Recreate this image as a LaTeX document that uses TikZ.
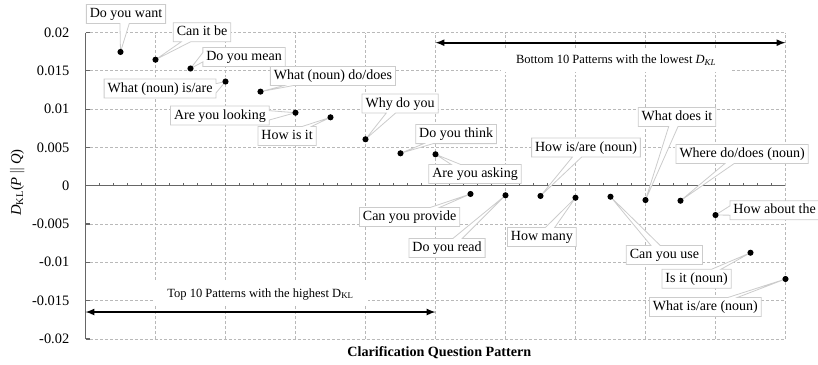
\documentclass[tikz,border=0pt]{standalone}
\usepackage{fontspec}
\setmainfont{Liberation Serif}
\usetikzlibrary{shapes.callouts}
\tikzset{>=latex}

\begin{document}
\begin{tikzpicture}[x=26.25pt, y=5.745pt,
  gridline/.style={gray!55, line width=0.5pt, dash pattern=on 2.2pt off 1.5pt},
  axisline/.style={black!60, line width=0.9pt},
  callbox/.style={rectangle callout, draw=gray!40, fill=white, line width=0.6pt,
    inner xsep=2.6pt, inner ysep=2.4pt, text height=7.4pt, text depth=2.1pt,
    font=\fontsize{10.5}{12}\selectfont, callout pointer width=7pt},
  rangetext/.style={fill=white, inner xsep=11pt, inner ysep=5pt, font=\fontsize{9.4}{11}\selectfont},
  ticklabel/.style={anchor=east, font=\fontsize{10.8}{12}\selectfont}]

\useasboundingbox (-2.443,-23.407) rectangle (20.929,24.243);

% grid
\foreach \gx in {2,4,...,20} \draw[gridline] (\gx,-20) -- (\gx,20);
\foreach \gy in {-20,-15,...,20} \draw[gridline] (0,\gy) -- (20,\gy);

% axes
\draw[axisline] (0,-20) -- (0,20);
\draw[axisline] (0,0) -- (20,0);
\foreach \gy in {-20,-15,...,20} \draw[axisline] (0,\gy) -- ++(3pt,0);
\foreach \tx in {0.4,0.8,...,20} \draw[axisline, line width=0.6pt] (\tx,0) -- ++(0,2.2pt);

\foreach \v/\t [count=\i] in {20/0.02, 15/0.015, 10/0.01, 5/0.005, 0/0, -5/-0.005, -10/-0.01, -15/-0.015, -20/-0.02}
  \node[ticklabel] (ylab\i) at (-0.33,\v) {\t};

\node[rotate=90, font=\fontsize{11}{13}\selectfont] (ytitle) at (-1.95,0.4) {\textit{D}\textsubscript{KL}(\textit{P}\,$\|$\,\textit{Q})};
\node[font=\bfseries\fontsize{10.6}{12}\selectfont] (xtitle) at (10.11,-21.84) {Clarification Question Pattern};

% ranges
\node[rangetext] (lowtxt) at (15.16,16.41) {Bottom 10 Patterns with the lowest \textit{D}\textsubscript{\textit{KL}}};
\coordinate (lowL) at (10,18.67);
\coordinate (lowR) at (20,18.67);
\draw[<->, line width=1.3pt] (lowL) -- (lowR);

\node[rangetext] (hightxt) at (5.0,-14.14) {Top 10 Patterns with the highest D\textsubscript{KL}};
\coordinate (highL) at (0,-16.49);
\coordinate (highR) at (10,-16.49);
\draw[<->, line width=1.3pt] (highL) -- (highR);

% data points
\coordinate (p1) at (1,17.46);
\coordinate (p2) at (2,16.45);
\coordinate (p3) at (3,15.30);
\coordinate (p4) at (4,13.6);
\coordinate (p5) at (5,12.28);
\coordinate (p6) at (6,9.53);
\coordinate (p7) at (7,8.93);
\coordinate (p8) at (8,6.06);
\coordinate (p9) at (9,4.23);
\coordinate (p10) at (10,4.10);
\coordinate (p11) at (11,-1.08);
\coordinate (p12) at (12,-1.25);
\coordinate (p13) at (13,-1.34);
\coordinate (p14) at (14,-1.57);
\coordinate (p15) at (15,-1.44);
\coordinate (p16) at (16,-1.87);
\coordinate (p17) at (17,-1.96);
\coordinate (p18) at (18,-3.83);
\coordinate (p19) at (19,-8.75);
\coordinate (p20) at (20,-12.18);

% callouts
\node[callbox, callout absolute pointer={(p1)}] (c1) at (1.157,22.42) {Do you want};
\node[callbox, callout absolute pointer={(p2)}] (c2) at (3.33,20.03) {Can it be};
\node[callbox, callout absolute pointer={(p3)}] (c3) at (4.53,16.80) {Do you mean};
\node[callbox, callout absolute pointer={(p4)}] (c4) at (2.13,12.69) {What (noun) is/are};
\node[callbox, callout absolute pointer={(p5)}] (c5) at (7.07,14.32) {What (noun) do/does};
\node[callbox, callout absolute pointer={(p6)}] (c6) at (3.84,9.16) {Are you looking};
\node[callbox, callout absolute pointer={(p7)}] (c7) at (5.76,6.49) {How is it};
\node[callbox, callout absolute pointer={(p8)}] (c8) at (8.99,10.73) {Why do you};
\node[callbox, callout absolute pointer={(p9)}] (c9) at (10.59,6.74) {Do you think};
\node[callbox, callout absolute pointer={(p10)}] (c10) at (11.13,1.53) {Are you asking};
\node[callbox, callout absolute pointer={(p11)}] (c11) at (9.26,-4.09) {Can you provide};
\node[callbox, callout absolute pointer={(p12)}] (c12) at (10.33,-8.13) {Do you read};
\node[callbox, callout absolute pointer={(p13)}] (c13) at (14.30,4.99) {How is/are (noun)};
\node[callbox, callout absolute pointer={(p14)}] (c14) at (13.04,-6.70) {How many};
\node[callbox, callout absolute pointer={(p15)}] (c15) at (16.54,-9.05) {Can you use};
\node[callbox, callout absolute pointer={(p16)}] (c16) at (16.90,8.97) {What does it};
\node[callbox, callout absolute pointer={(p17)}] (c17) at (18.76,4.14) {Where do/does (noun)};
\node[callbox, callout absolute pointer={(p18)}] (c18) at (19.69,-3.21) {How about the};
\node[callbox, callout absolute pointer={(p19)}] (c19) at (17.46,-12.15) {Is it (noun)};
\node[callbox, callout absolute pointer={(p20)}] (c20) at (17.71,-15.84) {What is/are (noun)};

\foreach \i in {1,...,20} \fill (p\i) circle (2.3pt);

\end{tikzpicture}
\end{document}
